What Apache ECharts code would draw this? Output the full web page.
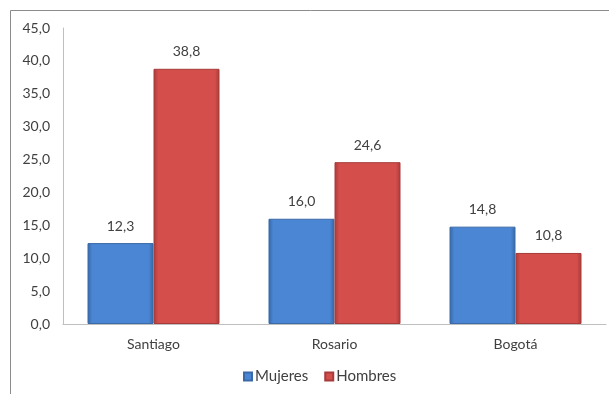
<!DOCTYPE html>
<html>
<head>
<meta charset="utf-8">
<script src="https://cdn.jsdelivr.net/npm/echarts@6/dist/echarts.min.js"></script>
<style>
  html, body { margin: 0; padding: 0; background: #fff; }
  #chart { width: 609px; height: 394px; }
</style>
</head>
<body>
<div id="chart"></div>
<script>
// Ciudades y porcentajes por sexo
const categories = ['Santiago', 'Rosario', 'Bogotá'];
const mujeres = [12.3, 16.0, 14.8];
const hombres = [38.8, 24.6, 10.8];
const yTicks = { min: 0, max: 45, interval: 5 };

const fmt = v => Number(v).toFixed(1).replace('.', ',');

// Horizontal shading that gives the bars a bevelled look
function bevel(edge, mid) {
  return new echarts.graphic.LinearGradient(0, 0, 1, 0, [
    { offset: 0, color: edge },
    { offset: 0.07, color: mid },
    { offset: 0.93, color: mid },
    { offset: 1, color: edge }
  ]);
}
const blueFill = bevel('#3765a3', '#4a86d4');
const redFill = bevel('#a83a38', '#d44e4c');

const chart = echarts.init(document.getElementById('chart'), null, { renderer: 'canvas' });
const font = { fontFamily: 'Lato', fontSize: 14, color: '#404040' };

chart.setOption({
  animation: false,
  textStyle: font,
  graphic: [{
    type: 'rect',
    shape: { x: 10.5, y: 10.5, width: 700, height: 500 },
    style: { fill: 'none', stroke: '#8c8c8c', lineWidth: 1 },
    silent: true,
    z: -1
  }],
  grid: { left: 63, right: 3, top: 28, bottom: 70, containLabel: false },
  legend: {
    bottom: 5,
    left: 238,
    itemWidth: 8,
    itemHeight: 8,
    itemGap: 16,
    icon: 'rect',
    textStyle: Object.assign({ padding: [0, 0, 0, -2] }, font, { fontSize: 15 }),
    data: ['Mujeres', 'Hombres']
  },
  xAxis: {
    type: 'category',
    data: categories,
    axisLine: { lineStyle: { color: '#bfbfbf' } },
    axisTick: { show: false },
    axisLabel: Object.assign({ margin: 13 }, font)
  },
  yAxis: {
    type: 'value',
    min: yTicks.min,
    max: yTicks.max,
    interval: yTicks.interval,
    splitLine: { show: false },
    axisLine: { show: true, lineStyle: { color: '#bfbfbf' } },
    axisTick: { show: false },
    axisLabel: Object.assign({ margin: 13, formatter: fmt }, font)
  },
  series: [
    {
      name: 'Mujeres',
      type: 'bar',
      data: mujeres,
      barWidth: 66,
      barGap: '0%',
      itemStyle: { color: blueFill, borderColor: '#3a6aa8', borderWidth: 1 },
      label: Object.assign({ show: true, position: 'top', distance: 10, formatter: p => fmt(p.value) }, font)
    },
    {
      name: 'Hombres',
      type: 'bar',
      data: hombres,
      barWidth: 66,
      barGap: '0%',
      itemStyle: { color: redFill, borderColor: '#a63c3a', borderWidth: 1 },
      label: Object.assign({ show: true, position: 'top', distance: 10, formatter: p => fmt(p.value) }, font)
    }
  ]
});
</script>
</body>
</html>
